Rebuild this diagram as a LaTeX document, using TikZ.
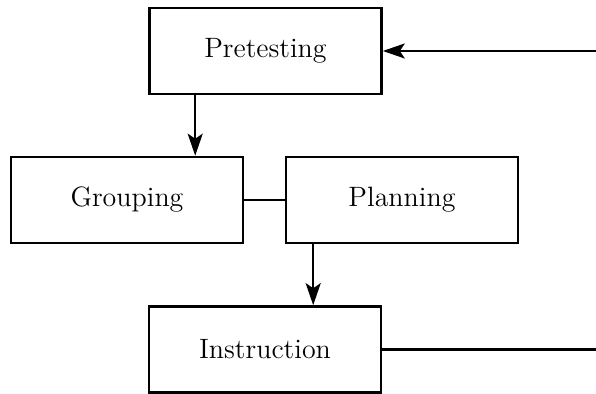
\documentclass[tikz,border=0pt]{standalone}
\usetikzlibrary{arrows.meta}
\begin{document}
\begin{tikzpicture}[x=0.5pt,y=-0.5pt,
  box/.style={draw, line width=1.3pt, minimum width=116pt, minimum height=43pt, inner sep=0pt, font=\fontsize{14}{17}\selectfont},
  conn/.style={line width=1.1pt},
  arr/.style={conn, -{Stealth[length=11pt,width=7.5pt,inset=2.5pt]}}]
\useasboundingbox (0,0) rectangle (596,394);
\node[box] (pre) at (265.5,51) {Pretesting};
\node[box] (grp) at (127,200) {Grouping};
\node[box] (pln) at (402,200) {Planning};
\node[box] (ins) at (265,349.5) {Instruction};
\coordinate (inp) at (596,51);
\coordinate (outp) at (596,349.5);
\draw[arr] (inp) -- (pre.east);
\draw[arr] ([xshift=23.5pt]pre.south west) -- ([xshift=23.5pt]pre.south west |- grp.north);
\draw[conn] (grp.east) -- (pln.west);
\draw[arr] ([xshift=14.25pt]pln.south west) -- ([xshift=14.25pt]pln.south west |- ins.north);
\draw[conn] (ins.east) -- (outp);
\end{tikzpicture}
\end{document}
